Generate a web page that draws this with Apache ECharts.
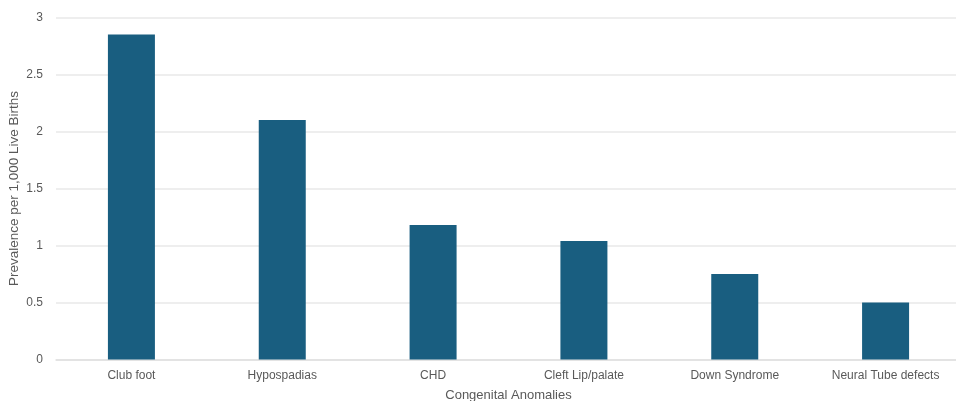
<!DOCTYPE html>
<html>
<head>
<meta charset="utf-8">
<script src="https://cdn.jsdelivr.net/npm/echarts@6/dist/echarts.min.js"></script>
<style>
  html, body { margin: 0; padding: 0; background: #ffffff; }
  #chart { width: 956px; height: 401px; }
</style>
</head>
<body>
<div id="chart"></div>
<script>
// Prevalence of congenital anomalies per 1,000 live births
const categories = ['Club foot', 'Hypospadias', 'CHD', 'Cleft Lip/palate', 'Down Syndrome', 'Neural Tube defects'];
const prevalence = [2.85, 2.10, 1.18, 1.04, 0.75, 0.50];
const yTicks = { min: 0, max: 3, interval: 0.5 };

const textColor = '#595959';
const fontFamily = '"Liberation Sans", Arial, sans-serif';

const chart = echarts.init(document.getElementById('chart'));
chart.setOption({
  animation: false,
  grid: { left: 56, top: 17.5, width: 905, bottom: 41.5, outerBoundsMode: 'none', containLabel: false },
  xAxis: {
    type: 'category',
    data: categories,
    name: 'Congenital Anomalies',
    nameLocation: 'middle',
    nameGap: 29,
    nameMoveOverlap: false,
    nameTextStyle: { color: textColor, fontSize: 13, fontFamily },
    axisLine: { lineStyle: { color: '#e0e0e0', width: 1.5 } },
    axisTick: { show: false },
    axisLabel: { color: textColor, fontSize: 12, fontFamily, margin: 10 }
  },
  yAxis: {
    type: 'value',
    min: yTicks.min,
    max: yTicks.max,
    interval: yTicks.interval,
    name: 'Prevalence per 1,000 Live Births',
    nameLocation: 'middle',
    nameGap: 35,
    nameMoveOverlap: false,
    nameTextStyle: { color: textColor, fontSize: 13.5, fontFamily },
    axisLine: { show: false },
    axisTick: { show: false },
    axisLabel: { color: textColor, fontSize: 12, fontFamily, margin: 13 },
    splitLine: { lineStyle: { color: '#e8e8e8', width: 1.5 } }
  },
  series: [{
    type: 'bar',
    data: prevalence,
    barWidth: 47,
    itemStyle: { color: '#195e80' }
  }]
});
</script>
</body>
</html>
